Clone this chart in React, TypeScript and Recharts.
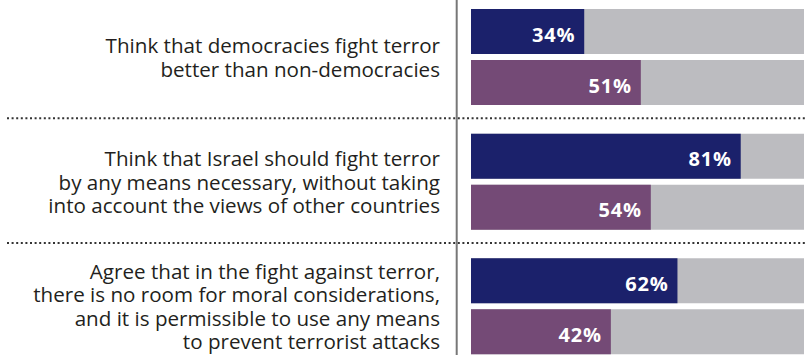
import React from "react";
import { BarChart, Bar, XAxis, YAxis, LabelList } from "recharts";

const categories: string[] = [
  "Think that democracies fight terror|better than non-democracies",
  "Think that Israel should fight terror|by any means necessary, without taking|into account the views of other countries",
  "Agree that in the fight against terror,|there is no room for moral considerations,|and it is permissible to use any means|to prevent terrorist attacks",
];
const seriesA: number[] = [34, 81, 62];
const seriesB: number[] = [51, 54, 42];

const data = categories.map((c, i) => ({ category: c, a: seriesA[i], b: seriesB[i] }));

const NAVY = "#1b216b";
const PURPLE = "#744a76";
const GREY = "#bcbcc0";
const TEXT = "#231f20";

const LINE_H = 23.5;

const CategoryTick = (props: any) => {
  const { x, y, payload, index } = props;
  const lines: string[] = String(payload.value).split("|");
  const first = y - ((lines.length - 1) * LINE_H) / 2 + 7.5;
  return (
    <g>
      <line x1={x - 14.3} x2={x - 14.3} y1={y - 62.5} y2={y + 62.5} stroke="#777" strokeWidth={2} />
      {index < categories.length - 1 && (
        <line
          x1={x - 464}
          x2={x + 334}
          y1={y + 61}
          y2={y + 61}
          stroke="#333"
          strokeWidth={2}
          strokeDasharray="2 2.6"
        />
      )}
      {lines.map((l, i) => (
        <text
          key={i}
          x={x - 31}
          y={first + i * LINE_H}
          textAnchor="end"
          fill={TEXT}
          fontSize={20.6}
          fontFamily="'Open Sans', sans-serif"
        >
          {l}
        </text>
      ))}
    </g>
  );
};

const ValueLabel = (props: any) => {
  const { x, y, width, height, value } = props;
  return (
    <text
      x={Number(x) + Number(width) - 9}
      y={Number(y) + Number(height) / 2 + 10}
      textAnchor="end"
      fill="#ffffff"
      fontSize={20}
      fontWeight={700}
      fontFamily="'Open Sans', sans-serif"
      letterSpacing={0.8}
    >
      {value}%
    </text>
  );
};

export default function App() {
  return (
    <div style={{ position: "absolute", left: 0, top: 0, width: 809, height: 355, overflow: "hidden", background: "#fff" }}>
      <div style={{ position: "relative", top: -5 }}>
        <BarChart
          width={809}
          height={374}
          data={data}
          layout="vertical"
          margin={{ top: 0, right: 5, bottom: 0, left: 0 }}
          barSize={45}
          barGap={6}
        >
          <XAxis type="number" domain={[0, 100]} hide />
          <YAxis
            type="category"
            dataKey="category"
            width={471}
            axisLine={false}
            tickLine={false}
            tickSize={0}
            tickMargin={0}
            interval={0}
            tick={<CategoryTick />}
          />
          <Bar dataKey="a" fill={NAVY} background={{ fill: GREY }} isAnimationActive={false}>
            <LabelList dataKey="a" content={<ValueLabel />} />
          </Bar>
          <Bar dataKey="b" fill={PURPLE} background={{ fill: GREY }} isAnimationActive={false}>
            <LabelList dataKey="b" content={<ValueLabel />} />
          </Bar>
        </BarChart>
      </div>
    </div>
  );
}
